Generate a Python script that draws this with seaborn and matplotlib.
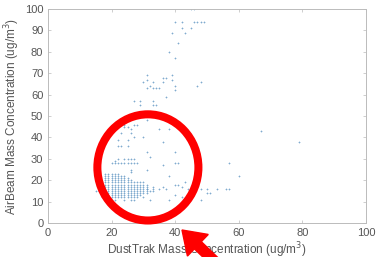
import pandas as pd
import matplotlib.pyplot as plt
import seaborn as sns
from matplotlib.patches import Ellipse, FancyArrow

# scattered readings (DustTrak, AirBeam)
sparse_x = [45, 46, 40, 42, 46, 47, 48, 49, 42, 45, 39, 43, 41, 38, 40,
            31, 39, 36, 37, 39, 31, 30, 33, 36, 48, 32, 40, 47, 31, 33, 34, 35,
            40, 37, 27, 29, 33, 29, 33, 34, 31, 24, 27, 28, 40, 24, 25, 35, 38, 26,
            23, 26, 27, 30, 22, 25, 36, 22, 23, 25, 31, 40, 32,
            22, 24, 25, 26, 27, 21, 20, 21, 22, 23, 24, 25, 26, 27, 28, 40, 41, 57,
            36, 26, 31, 26, 60, 38,
            31, 32, 35, 36, 37, 40, 41, 42, 46, 50, 51, 53, 56, 57, 43, 44, 48,
            50, 38, 40, 48, 42, 44, 67, 79, 15, 16, 17, 30, 32]
sparse_y = [100, 100, 94, 94, 94, 94, 94, 94, 91, 91, 89, 89, 84, 80, 77,
            69, 69, 68, 68, 67, 67, 66, 66, 66, 66, 64, 64, 64, 63, 63, 63, 63,
            62, 59, 57, 57, 57, 55, 55, 55, 48, 46, 46, 46, 47, 45, 45, 44, 44, 44,
            42, 42, 40, 40, 39, 39, 38, 36, 36, 36, 33, 33, 31,
            30, 30, 30, 30, 30, 29, 28, 28, 28, 28, 28, 28, 28, 28, 28, 28, 28, 28,
            27, 25, 25, 24, 22, 22,
            16, 15, 16, 17, 16, 18, 18, 17, 16, 16, 14, 16, 16, 16, 19, 16, 16,
            14, 11, 13, 11, 12, 12, 43, 38, 15, 15, 12, 12, 11]

# dense cluster: DustTrak value -> AirBeam values recorded
dense = {
    18: [11, 12, 13, 14, 15, 16, 17, 18, 19, 20, 21, 22, 23],
    19: [11, 12, 13, 14, 15, 16, 17, 18, 19, 20, 21, 22, 23],
    20: [11, 12, 13, 14, 15, 16, 17, 18, 19, 20, 21, 22, 23],
    21: [11, 12, 13, 14, 15, 16, 17, 18, 19, 20, 21, 22, 23],
    22: [12, 13, 14, 15, 16, 17, 18, 19, 20, 21, 22, 23],
    23: [12, 13, 14, 15, 16, 17, 18, 19, 20, 21, 22],
    24: [11, 12, 13, 14, 15, 16, 17, 18, 19, 20, 21, 22],
    25: [12, 13, 14, 15, 16, 17, 18, 19, 20, 21],
    26: [11, 12, 13, 14, 15, 16, 17, 18, 19, 20],
    27: [11, 12, 13, 14, 15, 16, 17, 18, 19],
    28: [12, 13, 14, 15, 16, 17, 18, 19],
    29: [13, 14, 15, 16, 17, 18, 19],
    30: [14, 15, 16, 17, 18, 19],
    31: [14, 15, 16, 17, 18],
    33: [15, 16, 17],
}

xs = list(sparse_x)
ys = list(sparse_y)
for k, vals in dense.items():
    xs += [k] * len(vals)
    ys += vals
df = pd.DataFrame({'dusttrak': xs, 'airbeam': ys})

sns.set_style('white')
plt.rcParams['font.family'] = ['Liberation Sans', 'DejaVu Sans']

fig = plt.figure(figsize=(3.76, 2.57), dpi=100)
ax = fig.add_axes([0.128, 0.132, 0.845, 0.833])

sns.scatterplot(data=df, x='dusttrak', y='airbeam', ax=ax, marker='+',
                s=4, linewidth=0.5, color='#6a9cc6', alpha=0.85, legend=False)

ax.set_xlim(0, 100)
ax.set_ylim(0, 100)
ax.set_xticks(range(0, 101, 20))
ax.set_yticks(range(0, 101, 10))
ax.tick_params(direction='in', length=2, width=0.5, colors='#bbbbbb',
               labelcolor='#555555', labelsize=8, top=True, right=True,
               bottom=True, left=True)
for s in ax.spines.values():
    s.set_color('#bbbbbb')
    s.set_linewidth(0.7)
ax.set_xlabel('DustTrak Mass Concentration (ug/m$^3$)', fontsize=8.5,
              color='#555555', labelpad=2)
ax.set_ylabel('AirBeam Mass Concentration (ug/m$^3$)', fontsize=8.5,
              color='#555555', labelpad=2)

# red highlight
ax.add_patch(Ellipse((31.4, 26.0), 31.8, 49.6, fill=False, edgecolor='#ff0000',
                     linewidth=5.8, clip_on=False, zorder=5))
fig.add_artist(FancyArrow(2.36, -0.25, -0.54, 0.52, width=0.1,
                          head_width=0.3, head_length=0.22,
                          length_includes_head=True, color='#ff0000',
                          transform=fig.dpi_scale_trans, zorder=6))

fig.savefig('out.png', dpi=100)
